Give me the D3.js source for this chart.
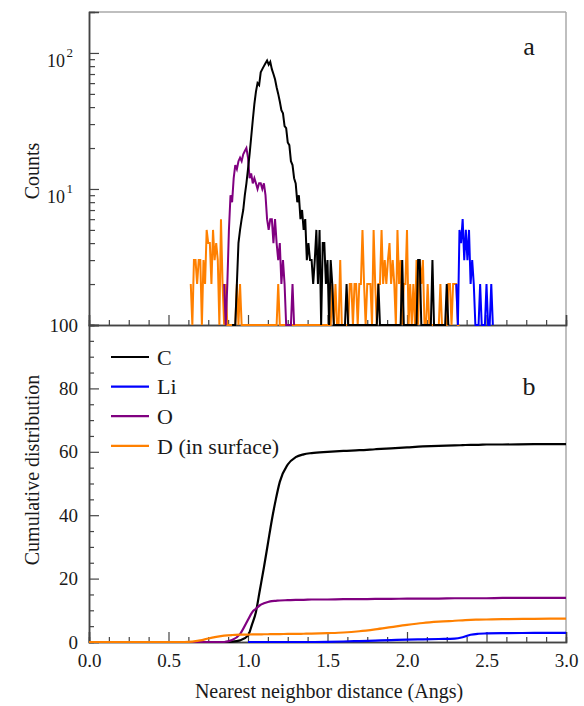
<!DOCTYPE html>
<html>
<head>
<meta charset="utf-8">
<script src="https://cdn.jsdelivr.net/npm/d3@7"></script>
<style>
  body { margin: 0; background: #fff; }
  svg text { font-family: "Liberation Serif", "Times New Roman", serif; fill: #1a1a1a; }
</style>
</head>
<body>
<script>
// histogram bins are 0.01 Angs wide; each series = first bin + counts
const binWidth = 0.01;

const cStart = 0.90;
const cCounts = [
  0, 0, 1, 2, 4, 5, 6, 7, 9, 11,
  14, 18, 24, 32, 42, 52, 60, 58, 72, 76,
  80, 84, 88, 82, 86, 76, 70, 64, 56, 50,
  44, 38, 36, 29, 28, 22, 21, 16, 15, 12,
  11, 8, 9, 6, 7, 5, 6, 3, 4, 3,
  3, 2, 3, 5, 2, 5, 1, 4, 4, 2,
  3, 1, 3, 2, 0, 0, 0, 0, 0, 0,
  0, 0, 2, 0, 0, 0, 0, 0, 0, 0,
  0, 0, 0, 0, 0, 0, 0, 0, 0, 0,
  0, 0, 2, 0, 0, 0, 0, 0, 0, 0,
  0, 0, 0, 0, 0, 0, 0, 3, 0, 0,
  0, 0, 0, 0, 0, 0, 0, 3, 3, 0,
  0, 0, 0, 0, 0, 0, 3, 0, 0, 0,
  0, 0, 0, 0, 0, 2, 0
];

const liStart = 2.31;
const liCounts = [
  2, 1, 5, 4, 6, 3, 5, 3, 5, 2,
  3, 2, 0, 0, 0, 2, 0, 0, 0, 2,
  0, 0, 2, 0
];

const oStart = 0.85;
const oCounts = [
  2, 1, 2, 5, 9, 8, 12, 15, 14, 16,
  17, 16, 18, 19, 20, 17, 12, 13, 11, 12,
  11, 10, 11, 11, 10, 11, 9, 6, 5, 6,
  6, 4, 6, 4, 3, 4, 2, 3, 2, 0,
  0, 0, 0, 2, 0
];

const dStart = 0.64;
const dCounts = [
  2, 0, 3, 3, 2, 3, 3, 1, 3, 2,
  5, 4, 4, 2, 5, 3, 4, 3, 1, 6,
  2, 0, 2, 0, 0, 0, 0, 0, 0, 2,
  0, 2, 0, 0, 0, 0, 0, 0, 0, 0,
  0, 0, 0, 0, 0, 0, 0, 0, 0, 0,
  0, 0, 0, 0, 0, 2, 0, 0, 0, 0,
  0, 0, 0, 0, 0, 0, 0, 0, 0, 0,
  0, 0, 0, 0, 0, 0, 0, 0, 0, 0,
  0, 0, 0, 0, 0, 0, 0, 0, 0, 2,
  1, 2, 0, 0, 3, 0, 0, 0, 0, 0,
  2, 2, 1, 2, 2, 1, 2, 2, 5, 2,
  1, 2, 2, 2, 1, 5, 2, 1, 2, 2,
  5, 2, 3, 2, 3, 4, 2, 3, 2, 1,
  5, 2, 3, 1, 2, 2, 5, 1, 2, 1,
  2, 1, 3, 1, 3, 2, 3, 1, 0, 2,
  1, 0, 0, 0, 0, 0, 0, 2, 0, 0,
  0, 0, 2, 2, 1, 2, 2, 2, 0, 0
];

// cumulative distribution (%), sampled on a shared grid
const cumX = [0.0, 0.60, 0.65, 0.70, 0.75, 0.80, 0.85, 0.90, 0.95, 1.00,
  1.025, 1.05, 1.075, 1.10, 1.125, 1.15, 1.175, 1.20, 1.25, 1.30,
  1.35, 1.40, 1.50, 1.60, 1.70, 1.80, 1.90, 2.00, 2.10, 2.20,
  2.30, 2.35, 2.40, 2.45, 2.50, 2.60, 2.80, 3.00];
const cumC = [0, 0, 0, 0, 0, 0, 0, 0.1, 0.5, 2.0,
  5.5, 9.5, 16.5, 23.5, 31, 38.5, 45, 50.5, 56, 58.3,
  59.2, 59.6, 60.0, 60.3, 60.5, 60.8, 61.1, 61.4, 61.7, 61.9,
  62.0, 62.1, 62.2, 62.2, 62.3, 62.3, 62.4, 62.4];
const cumLi = [null, null, null, null, null, null, null, null, null, 0,
  0, 0, 0, 0, 0, 0, 0, 0, 0, 0,
  0, 0, 0.05, 0.15, 0.3, 0.45, 0.6, 0.75, 0.85, 0.95,
  1.05, 1.5, 2.3, 2.6, 2.7, 2.8, 2.85, 2.9];
const cumO = [0, 0, 0, 0, 0, 0, 0, 0.6, 2.5, 7.0,
  9.3, 10.5, 11.6, 12.2, 12.6, 12.9, 13.0, 13.1, 13.2, 13.3,
  13.3, 13.4, 13.4, 13.5, 13.5, 13.6, 13.6, 13.7, 13.7, 13.7,
  13.8, 13.8, 13.8, 13.8, 13.8, 13.9, 13.9, 13.9];
const cumD = [0, 0, 0.1, 0.5, 1.1, 1.6, 2.0, 2.2, 2.3, 2.35,
  2.4, 2.4, 2.4, 2.45, 2.45, 2.5, 2.5, 2.5, 2.55, 2.55,
  2.6, 2.65, 2.8, 3.0, 3.4, 4.0, 4.7, 5.4, 6.0, 6.4,
  6.7, 6.85, 7.0, 7.05, 7.1, 7.2, 7.3, 7.4];

const species = ["C", "Li", "O", "D (in surface)"];
const colors = ["#000000", "#0000ff", "#800080", "#ff8000"];

const xTicksMajor = [0, 0.5, 1, 1.5, 2, 2.5, 3];
const yTopMajor = [10, 100];
const yBotMajor = [0, 20, 40, 60, 80, 100];

const W = 584, H = 706;
const left = 89, right = 566, topA = 12, midY = 325, botY = 642;

const svg = d3.select("body").append("svg")
  .attr("width", W)
  .attr("height", H);

const x = d3.scaleLinear().domain([0, 3]).range([left, right]);
const yTop = d3.scaleLog().domain([1, 200]).range([midY, topA]);
const yBot = d3.scaleLinear().domain([0, 100]).range([botY, midY]);

const xMinor = d3.range(0, 3.0001, 0.125).filter(v => Math.abs(v * 2 - Math.round(v * 2)) > 1e-6);
const yTopMinor = [2, 3, 4, 5, 6, 7, 8, 9, 20, 30, 40, 50, 60, 70, 80, 90];
const yBotMinor = d3.range(5, 100, 5).filter(v => v % 20 !== 0);

/* frame: light gray top and right edges */
const frame = svg.append("g").attr("stroke", "#aaa").attr("stroke-width", 1.5);
frame.append("line").attr("x1", left).attr("x2", right).attr("y1", topA).attr("y2", topA);
frame.append("line").attr("x1", right).attr("x2", right).attr("y1", topA).attr("y2", botY);

/* axes, ticks pointing inward */
function styleAxis(g) {
  g.selectAll("path.domain").attr("stroke", "#444").attr("stroke-width", 1.5);
  g.selectAll(".tick line").attr("stroke", "#444").attr("stroke-width", 1.2);
  g.selectAll(".tick text").attr("fill", "#1a1a1a");
}

// x axis of panel a (no labels)
svg.append("g").attr("transform", `translate(0,${midY})`)
  .call(d3.axisBottom(x).tickValues(xMinor).tickSize(-5).tickFormat(""))
  .call(styleAxis);
svg.append("g").attr("transform", `translate(0,${midY})`)
  .call(d3.axisBottom(x).tickValues(xTicksMajor).tickSize(-10).tickFormat(""))
  .call(styleAxis);

// x axis of panel b
svg.append("g").attr("transform", `translate(0,${botY})`)
  .call(d3.axisBottom(x).tickValues(xMinor).tickSize(-5).tickFormat(""))
  .call(styleAxis);
svg.append("g").attr("transform", `translate(0,${botY})`)
  .call(d3.axisBottom(x).tickValues(xTicksMajor).tickSize(-10).tickPadding(12).tickFormat(d3.format(".1f")))
  .call(styleAxis)
  .call(g => g.selectAll(".tick text").attr("font-size", 19).attr("dy", "0.71em")
    .attr("font-family", "Liberation Serif, serif"));

// y axis of panel a (log)
svg.append("g").attr("transform", `translate(${left},0)`)
  .call(d3.axisLeft(yTop).tickValues(yTopMinor).tickSize(-6).tickFormat(""))
  .call(styleAxis);
const yA = svg.append("g").attr("transform", `translate(${left},0)`)
  .call(d3.axisLeft(yTop).tickValues(yTopMajor).tickSize(-10).tickFormat(""))
  .call(styleAxis);
yA.selectAll(".tick").each(function(d) {
  const t = d3.select(this).append("text")
    .attr("x", -24)
    .attr("y", 14)
    .attr("text-anchor", "end")
    .attr("font-size", 18)
    .attr("font-family", "Liberation Serif, serif")
    .attr("fill", "#1a1a1a");
  t.append("tspan").text("10");
  t.append("tspan").attr("x", -16).attr("y", 4).attr("font-size", 13)
    .text(Math.round(Math.log10(d)));
});

// y axis of panel b
svg.append("g").attr("transform", `translate(${left},0)`)
  .call(d3.axisLeft(yBot).tickValues(yBotMinor).tickSize(-5).tickFormat(""))
  .call(styleAxis);
svg.append("g").attr("transform", `translate(${left},0)`)
  .call(d3.axisLeft(yBot).tickValues(yBotMajor).tickSize(-10).tickPadding(11))
  .call(styleAxis)
  .call(g => g.selectAll(".tick text").attr("font-size", 19)
    .attr("font-family", "Liberation Serif, serif"));

/* histogram lines, panel a (drawn over the axes) */
const histPts = (start, counts) => counts.map((c, i) => [start + i * binWidth, Math.max(c, 1)]);
const histLine = d3.line()
  .x(d => x(d[0]))
  .y(d => yTop(d[1]));

const histSeries = [
  { pts: histPts(dStart, dCounts), color: colors[3] },
  { pts: histPts(oStart, oCounts), color: colors[2] },
  { pts: histPts(cStart, cCounts), color: colors[0] },
  { pts: histPts(liStart, liCounts), color: colors[1] },
];
svg.append("g").selectAll("path")
  .data(histSeries)
  .enter()
  .append("path")
    .attr("d", d => histLine(d.pts))
    .attr("fill", "none")
    .attr("stroke", d => d.color)
    .attr("stroke-width", 2);

/* cumulative lines, panel b */
const cumLine = d3.line()
  .defined(d => d[1] !== null)
  .x(d => x(d[0]))
  .y(d => yBot(d[1]))
  .curve(d3.curveMonotoneX);

const cumSeries = [
  { vals: cumC, color: colors[0] },
  { vals: cumO, color: colors[2] },
  { vals: cumD, color: colors[3] },
  { vals: cumLi, color: colors[1] },
];
svg.append("g").selectAll("path")
  .data(cumSeries)
  .enter()
  .append("path")
    .attr("d", d => cumLine(cumX.map((v, i) => [v, d.vals[i]])))
    .attr("fill", "none")
    .attr("stroke", d => d.color)
    .attr("stroke-width", 2.2);

/* axis titles */
svg.append("text")
  .attr("transform", `translate(39,171) rotate(-90)`)
  .attr("text-anchor", "middle")
  .attr("font-size", 20)
  .text("Counts");
svg.append("text")
  .attr("transform", `translate(39,470) rotate(-90)`)
  .attr("text-anchor", "middle")
  .attr("font-size", 20)
  .text("Cumulative distribution");
svg.append("text")
  .attr("x", 329)
  .attr("y", 698)
  .attr("text-anchor", "middle")
  .attr("font-size", 20)
  .text("Nearest neighbor distance (Angs)");

/* panel letters */
svg.append("text").attr("x", 529).attr("y", 55).attr("text-anchor", "middle")
  .attr("font-size", 26).text("a");
svg.append("text").attr("x", 529).attr("y", 395).attr("text-anchor", "middle")
  .attr("font-size", 26).text("b");

/* legend */
const legend = svg.append("g").attr("transform", "translate(111,357)");
const rows = legend.selectAll("g")
  .data(species)
  .enter()
  .append("g")
    .attr("transform", (d, i) => `translate(0,${i * 29.6})`);
rows.append("line")
  .attr("x1", 0).attr("x2", 38)
  .attr("stroke", (d, i) => colors[i])
  .attr("stroke-width", 2.2);
rows.append("text")
  .attr("x", 46)
  .attr("dy", "0.35em")
  .attr("font-size", 22)
  .text(d => d);
</script>
</body>
</html>
